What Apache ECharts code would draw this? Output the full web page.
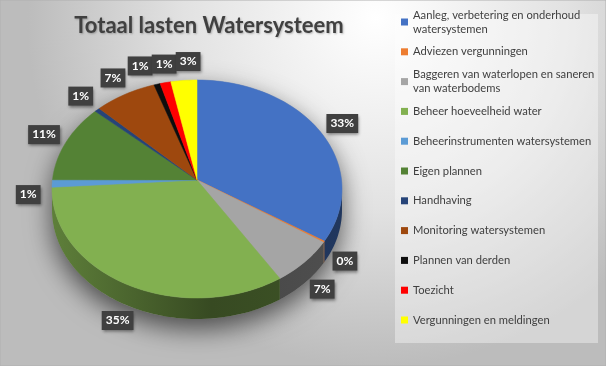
<!DOCTYPE html>
<html>
<head>
<meta charset="utf-8">
<script src="https://cdn.jsdelivr.net/npm/echarts@6/dist/echarts.min.js"></script>
<style>
html,body{margin:0;padding:0;background:#fff;}
#chart{width:606px;height:366px;}
</style>
</head>
<body>
<div id="chart"></div>
<script>
// ---- data ----
const titleText = 'Totaal lasten Watersysteem';
const categories = [
  'Aanleg, verbetering en onderhoud watersystemen',
  'Adviezen vergunningen',
  'Baggeren van waterlopen en saneren van waterbodems',
  'Beheer hoeveelheid water',
  'Beheerinstrumenten watersystemen',
  'Eigen plannen',
  'Handhaving',
  'Monitoring watersystemen',
  'Plannen van derden',
  'Toezicht',
  'Vergunningen en meldingen'
];
const values = [33.0, 0.2, 7.2, 35.0, 1.1, 11.3, 0.6, 7.0, 0.7, 1.2, 2.9];
const colors = ['#4472C4','#ED7D31','#A5A5A5','#82B050','#5B9BD5','#548235','#264478','#9E480E','#0D0D0D','#FF0000','#FFFF00'];

// ---- layout / style constants ----
const W = 606, H = 366;
const cx = 197, cy = 189, rx = 145, ry = 109, depth = 21, apexShift = 9;
const total = values.reduce((a, b) => a + b, 0);
const FONT = 'Lato, "Open Sans", sans-serif';

function shade(hex, f) {
  const n = parseInt(hex.slice(1), 16);
  const r = Math.round(((n >> 16) & 255) * f), g = Math.round(((n >> 8) & 255) * f), b = Math.round((n & 255) * f);
  return 'rgb(' + r + ',' + g + ',' + b + ')';
}
function wrap(name, max) {
  const words = name.split(' '); const lines = []; let cur = '';
  words.forEach(w => {
    if (cur && (cur + ' ' + w).length > max) { lines.push(cur); cur = w; }
    else cur = cur ? cur + ' ' + w : w;
  });
  if (cur) lines.push(cur);
  return lines.join('\n');
}
const rad = d => d * Math.PI / 180;
function pt(a) { return [cx + rx * Math.cos(rad(a)), cy - ry * Math.sin(rad(a))]; }

// slice angles (degrees, math convention, clockwise from 12 o'clock)
const angles = [];
(function () {
  let cum = 0;
  values.forEach(v => {
    const s = 90 - cum / total * 360;
    cum += v;
    const e = 90 - cum / total * 360;
    angles.push([s, e]);
  });
})();

// label positions with simple horizontal collision resolution
const labels = angles.map((a, i) => {
  const m = (a[0] + a[1]) / 2;
  const sn = Math.sin(rad(m)), cs = Math.cos(rad(m));
  const text = Math.round(values[i] / total * 100) + '%';
  const side = Math.abs(cs) > 0.97 ? 12 : 0; // labels at far left/right sit a bit lower (perspective)
  return {
    x: cx + (rx + 24) * cs,
    y: cy - (ry + 19) * sn + (sn < 0 ? depth * (-sn) : 0) + side,
    w: text.length * 7 + 9, h: 20, text
  };
});
for (let it = 0; it < 80; it++) {
  for (let i = 0; i < labels.length; i++) for (let j = i + 1; j < labels.length; j++) {
    const A = labels[i], B = labels[j];
    if (Math.abs(A.y - B.y) < A.h - 1) {
      const need = (A.w + B.w) / 2 + 1;
      const d = B.x - A.x;
      if (Math.abs(d) < need) {
        const push = (need - Math.abs(d)) / 2 * (d >= 0 ? 1 : -1);
        A.x -= push; B.x += push;
      }
    }
  }
}

function arcPoints(a0, a1) {
  const pts = [];
  const steps = Math.max(2, Math.ceil(Math.abs(a0 - a1) / 2) + 1);
  for (let k = 0; k <= steps; k++) pts.push(pt(a0 + (a1 - a0) * k / steps));
  return pts;
}

function renderSlice(params, api) {
  const i = params.seriesIndex;
  const [s, e] = angles[i];
  const children = [];
  if (i === 0) {
    // drop shadow under the whole pie
    const sh = [];
    for (let k = 0; k <= 180; k++) {
      const t = k * 2;
      const p = pt(t);
      sh.push([p[0], p[1] + (Math.sin(rad(t)) < 0 ? depth : 0)]);
    }
    children.push({
      type: 'polygon', shape: { points: sh }, z2: 1,
      style: { fill: '#9a9a9a', shadowBlur: 26, shadowColor: 'rgba(0,0,0,0.6)', shadowOffsetY: 10, shadowOffsetX: 0 }
    });
  }
  const col = api.visual('color');
  // side wall (front half only)
  const lo = Math.max(e, -180), hi = Math.min(s, 0);
  if (lo < hi) {
    const top = arcPoints(hi, lo);
    const bottom = top.map(p => [p[0], p[1] + depth]).reverse();
    const grad = new echarts.graphic.LinearGradient(cx - rx, 0, cx + rx, 0, [
      { offset: 0, color: shade(colors[i], 0.72) },
      { offset: 0.55, color: shade(colors[i], 0.42) },
      { offset: 1, color: shade(colors[i], 0.48) }
    ], true);
    children.push({
      type: 'polygon', shape: { points: top.concat(bottom) }, z2: 5,
      style: { fill: grad, stroke: null }
    });
  }
  // top face
  const face = [[cx, cy - apexShift]].concat(arcPoints(s, e));
  children.push({
    type: 'polygon', shape: { points: face }, z2: 10,
    style: { fill: col, stroke: col, lineWidth: 0.5 }
  });
  // data label
  const L = labels[i];
  children.push({
    type: 'text', z2: 100, x: L.x, y: L.y,
    style: {
      text: L.text, fill: '#ffffff', font: 'bold 12px ' + FONT,
      align: 'center', verticalAlign: 'middle',
      backgroundColor: '#404040', padding: [4, 4, 3, 4],
      shadowBlur: 3, shadowColor: 'rgba(0,0,0,0.45)', shadowOffsetX: 1, shadowOffsetY: 2
    }
  });
  return { type: 'group', children };
}

const series = categories.map((name, i) => ({
  type: 'custom', name, coordinateSystem: 'none',
  itemStyle: { color: colors[i] },
  renderItem: renderSlice,
  data: [values[i]]
}));

const legends = categories.map((name, i) => {
  const txt = wrap(name, 34);
  const two = txt.indexOf('\n') >= 0;
  const yc = 22 + i * 29.8;
  return {
    orient: 'vertical', left: 401, top: yc - (two ? 21 : 7), padding: 0,
    itemWidth: 7, itemHeight: 7, itemGap: 0, icon: 'rect', selectedMode: false,
    data: [name], formatter: () => txt,
    textStyle: { color: '#404040', fontFamily: FONT, fontSize: 11.2, lineHeight: 14, padding: two ? [14, 0, 0, 0] : 0 }
  };
});

const chart = echarts.init(document.getElementById('chart'), null, { renderer: 'canvas' });
chart.setOption({
  animation: false,
  color: colors,
  graphic: [
    {
      type: 'rect', shape: { x: 0, y: 0, width: W, height: H }, z: -10, silent: true,
      style: {
        fill: new echarts.graphic.RadialGradient(0.62, 0.05, 0.95, [
          { offset: 0, color: '#ffffff' }, { offset: 0.55, color: '#e2e2e2' }, { offset: 1, color: '#bcbcbc' }
        ]),
        stroke: '#b0b0b0', lineWidth: 1
      }
    },
    {
      type: 'rect', shape: { x: 395, y: 14, width: 203, height: 329 }, z: -9, silent: true,
      style: { fill: 'rgba(255,255,255,0.38)' }
    }
  ],
  title: {
    text: titleText, left: 204, top: 10, textAlign: 'center',
    textStyle: { fontFamily: FONT, fontWeight: 'bold', fontSize: 22, color: '#404040',
      textShadowColor: 'rgba(0,0,0,0.25)', textShadowBlur: 2, textShadowOffsetX: 1, textShadowOffsetY: 1 }
  },
  legend: legends,
  series
});
</script>
</body>
</html>
